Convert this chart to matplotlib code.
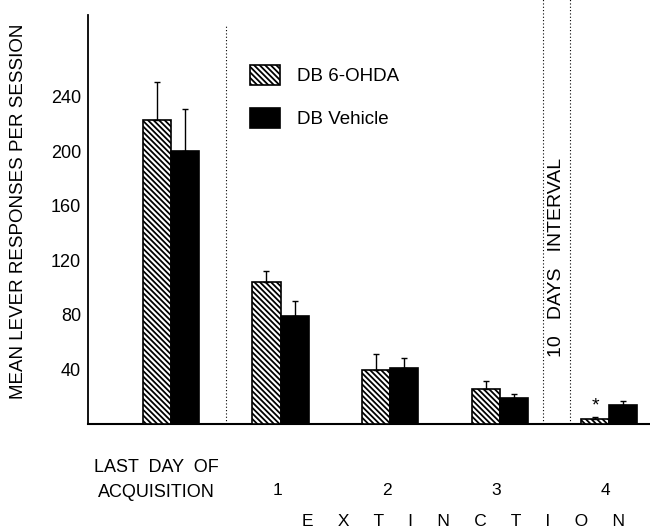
import matplotlib
matplotlib.use("Agg")
import matplotlib.pyplot as plt
import numpy as np

plt.rcParams['font.family'] = ['Liberation Sans', 'DejaVu Sans']
plt.rcParams['hatch.linewidth'] = 1.3

groups = ["LAST DAY OF\nACQUISITION", "1", "2", "3", "4"]
ohda = [223, 104, 39, 25, 3]
ohda_err = [28, 8, 12, 6, 2]
vehicle = [200, 79, 41, 18.5, 13.5]
vehicle_err = [31, 11, 7, 3, 3]
yticks = [40, 80, 120, 160, 200, 240]

fig = plt.figure(figsize=(6.5, 5.29), dpi=100)
ax = fig.add_axes([88/650, 1-423.5/529, 562/650, (423.5-15)/529])

x = np.arange(len(groups), dtype=float)
w = 0.256
ax.bar(x - w/2, ohda, w, color='white', edgecolor='black', hatch='\\\\\\\\\\\\', linewidth=1.2,
       label='DB 6-OHDA', zorder=3)
ax.bar(x + w/2, vehicle, w, color='black', edgecolor='black', linewidth=1.2,
       label='DB Vehicle', zorder=3)
ax.errorbar(x - w/2, ohda, yerr=[np.zeros(len(ohda)), ohda_err], fmt='none',
            ecolor='black', elinewidth=1.0, capsize=2, capthick=1.0, zorder=4)
ax.errorbar(x + w/2, vehicle, yerr=[np.zeros(len(vehicle)), vehicle_err], fmt='none',
            ecolor='black', elinewidth=1.0, capsize=2, capthick=1.0, zorder=4)

ax.text(x[4] - w/2 + 0.0, 13, '*', ha='center', va='center', fontsize=14)

ax.set_xlim(-0.758, 4.374)
ax.set_ylim(0, 300)
ax.set_yticks(yticks)
ax.set_yticklabels([str(t) for t in yticks], fontsize=13)
ax.tick_params(axis='y', length=0, pad=5)
ax.set_xticks([])
for s in ['top', 'right']:
    ax.spines[s].set_visible(False)
ax.spines['left'].set_linewidth(1.3)
ax.spines['bottom'].set_linewidth(1.5)

ax.axvline(0.5, ymin=0, ymax=0.975, color='black', linestyle=(0, (1, 2)), linewidth=0.8)
for xv in [3.395, 3.64]:
    ax.plot([xv, xv], [0, 312], color='black', linestyle=(0, (1, 2)), linewidth=0.8,
            clip_on=False)

ax.text(3.52, 122, '10   DAYS   INTERVAL', rotation=90, ha='center', va='center',
        fontsize=14)

ax.set_ylabel('MEAN LEVER RESPONSES PER SESSION', fontsize=13.5)
ax.yaxis.set_label_coords(-0.1085, 0.519)

# category labels
ax.text(-0.13, -32, 'LAST  DAY  OF', ha='center', va='center', fontsize=13)
ax.text(-0.13, -51, 'ACQUISITION', ha='center', va='center', fontsize=13)
for xi, lab in zip(x[1:], groups[1:]):
    ax.text(xi - 0.03, -49, lab, ha='center', va='center', fontsize=12.5)
ax.text(2.67, -72, 'E     X     T     I     N     C     T     I     O     N', ha='center',
        va='center', fontsize=12.5)

leg = ax.legend(loc='upper left', bbox_to_anchor=(0.259, 0.92), frameon=False,
                fontsize=13.5, handlelength=1.6, handleheight=1.3, labelspacing=1.2,
                handletextpad=0.9)

fig.savefig('out.png', dpi=100)
